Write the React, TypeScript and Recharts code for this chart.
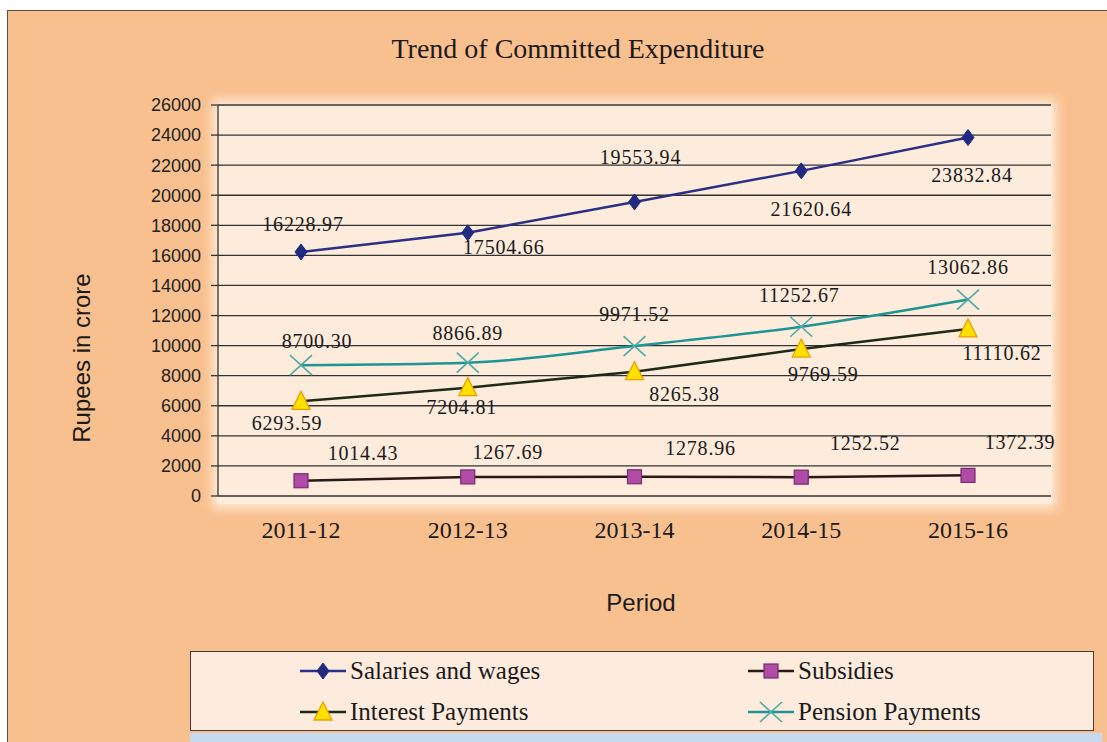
import React from 'react';
import { LineChart, Line, XAxis, YAxis, CartesianGrid, LabelList } from 'recharts';

const periods = ['2011-12', '2012-13', '2013-14', '2014-15', '2015-16'];
const salaries = [16228.97, 17504.66, 19553.94, 21620.64, 23832.84];
const subsidies = [1014.43, 1267.69, 1278.96, 1252.52, 1372.39];
const interest = [6293.59, 7204.81, 8265.38, 9769.59, 11110.62];
const pension = [8700.3, 8866.89, 9971.52, 11252.67, 13062.86];
const yTicks = [0, 2000, 4000, 6000, 8000, 10000, 12000, 14000, 16000, 18000, 20000, 22000, 24000, 26000];

const data = periods.map((period, i) => ({
  period,
  salaries: salaries[i],
  subsidies: subsidies[i],
  interest: interest[i],
  pension: pension[i],
}));

// where each data label sits relative to its point (dx, dy of text centre)
const labelOffsets: Record<string, [number, number][]> = {
  salaries: [[2, -28], [36, 14], [6, -45], [10, 38], [4, 37]],
  pension: [[16, -24], [0, -30], [0, -32], [-2, -32], [0, -33]],
  interest: [[-14, 22], [-6, 19], [50, 22], [22, 25], [34, 24]],
  subsidies: [[62, -28], [40, -25], [66, -29], [64, -34], [52, -33]],
};

const SERIF = '"Liberation Serif", "Times New Roman", serif';
const SANS = '"Liberation Sans", Arial, sans-serif';

const C = {
  salaries: '#2B2F86',
  subsidies: '#2A1A16',
  interest: '#1C2A16',
  pension: '#1E9494',
};

const Diamond = ({ cx, cy }: any) => (
  <polygon points={`${cx},${cy - 8} ${cx + 6},${cy} ${cx},${cy + 8} ${cx - 6},${cy}`} fill="#1F2A80" stroke="#1F2A80" />
);
const Square = ({ cx, cy }: any) => (
  <rect x={cx - 7} y={cy - 7} width={14} height={14} fill="#B04CA8" stroke="#7B2B6E" strokeWidth={1.2} />
);
const Triangle = ({ cx, cy }: any) => (
  <polygon points={`${cx},${cy - 10} ${cx + 9},${cy + 8} ${cx - 9},${cy + 8}`} fill="#FFE000" stroke="#E8A000" strokeWidth={1.3} />
);
const Cross = ({ cx, cy }: any) => (
  <g stroke="#4FA9A5" strokeWidth={1.6}>
    <line x1={cx - 11} y1={cy - 10} x2={cx + 11} y2={cy + 10} />
    <line x1={cx - 11} y1={cy + 10} x2={cx + 11} y2={cy - 10} />
  </g>
);

const makeLabel = (key: string) => (props: any) => {
  const { x, y, value, index } = props;
  const [dx, dy] = labelOffsets[key][index] || [0, -20];
  return (
    <text
      x={x + dx}
      y={y + dy}
      textAnchor="middle"
      dominantBaseline="central"
      fontFamily={SERIF}
      fontSize={20}
      letterSpacing={0.8}
      fill="#1a1a1a"
    >
      {Number(value).toFixed(2)}
    </text>
  );
};

const XTick = ({ x, y, payload }: any) => (
  <text x={x} y={y + 34} textAnchor="middle" fontFamily={SERIF} fontSize={24} fill="#1a1a1a">
    {payload.value}
  </text>
);

const LegendIcon = ({ color, Marker }: { color: string; Marker: any }) => (
  <svg width={46} height={24} style={{ display: 'block' }}>
    <line x1={0} y1={12} x2={46} y2={12} stroke={color} strokeWidth={2.5} />
    <Marker cx={23} cy={12} />
  </svg>
);

const legendItems = [
  { label: 'Salaries and wages', color: C.salaries, Marker: Diamond, left: 300, top: 659 },
  { label: 'Subsidies', color: C.subsidies, Marker: Square, left: 748, top: 659 },
  { label: 'Interest Payments', color: C.interest, Marker: Triangle, left: 300, top: 700 },
  { label: 'Pension Payments', color: C.pension, Marker: Cross, left: 748, top: 700 },
];

export default function App() {
  return (
    <div style={{ position: 'relative', width: 1107, height: 742, overflow: 'hidden', background: '#fff' }}>
      <style>{`body{margin:0}`}</style>
      <div
        style={{
          position: 'absolute',
          left: 7,
          top: 10,
          width: 1120,
          height: 760,
          background: '#F9C08F',
          border: '1.5px solid #5d4c44',
        }}
      />
      <div
        style={{
          position: 'absolute',
          left: 217,
          top: 104,
          width: 835,
          height: 400,
          background: '#FDEBDC',
          boxShadow: '0 0 10px 5px rgba(255,238,222,0.85)',
        }}
      />
      <div
        style={{
          position: 'absolute',
          left: 0,
          width: 1156,
          top: 33,
          textAlign: 'center',
          fontFamily: SERIF,
          fontSize: 28,
          color: '#1a1a1a',
        }}
      >
        Trend of Committed Expenditure
      </div>
      <div
        style={{
          position: 'absolute',
          left: 82,
          top: 358,
          transform: 'translate(-50%, -50%) rotate(-90deg)',
          fontFamily: SANS,
          fontSize: 24,
          whiteSpace: 'nowrap',
          color: '#1a1a1a',
        }}
      >
        Rupees in crore
      </div>
      <div
        style={{
          position: 'absolute',
          left: 641,
          top: 603,
          transform: 'translate(-50%, -50%)',
          fontFamily: SANS,
          fontSize: 24,
          color: '#1a1a1a',
        }}
      >
        Period
      </div>

      <div style={{ position: 'absolute', left: 0, top: 0 }}>
        <LineChart width={1107} height={742} data={data} margin={{ top: 105, right: 56, left: 0, bottom: 0 }}>
          <CartesianGrid vertical={false} stroke="#333" strokeWidth={1.3} />
          <XAxis
            dataKey="period"
            height={246}
            axisLine={false}
            tickLine={false}
            padding={{ left: 83, right: 83 }}
            tick={<XTick />}
            interval={0}
          />
          <YAxis
            width={218}
            domain={[0, 26000]}
            ticks={yTicks}
            interval={0}
            axisLine={{ stroke: '#333', strokeWidth: 1.3 }}
            tickLine={{ stroke: '#333', strokeWidth: 1.3 }}
            tickSize={7}
            tickMargin={10}
            tick={{ fontFamily: SANS, fontSize: 18, fill: '#222' }}
          />
          <Line
            dataKey="salaries"
            stroke={C.salaries}
            strokeWidth={2.5}
            dot={(p: any) => <Diamond key={p.index} {...p} />}
            isAnimationActive={false}
          >
            <LabelList dataKey="salaries" content={makeLabel('salaries')} />
          </Line>
          <Line
            dataKey="subsidies"
            stroke={C.subsidies}
            strokeWidth={2.5}
            dot={(p: any) => <Square key={p.index} {...p} />}
            isAnimationActive={false}
          >
            <LabelList dataKey="subsidies" content={makeLabel('subsidies')} />
          </Line>
          <Line
            dataKey="interest"
            stroke={C.interest}
            strokeWidth={2.5}
            dot={(p: any) => <Triangle key={p.index} {...p} />}
            isAnimationActive={false}
          >
            <LabelList dataKey="interest" content={makeLabel('interest')} />
          </Line>
          <Line
            type="monotone"
            dataKey="pension"
            stroke={C.pension}
            strokeWidth={2.5}
            dot={(p: any) => <Cross key={p.index} {...p} />}
            isAnimationActive={false}
          >
            <LabelList dataKey="pension" content={makeLabel('pension')} />
          </Line>
        </LineChart>
      </div>

      <div
        style={{
          position: 'absolute',
          left: 190,
          top: 651,
          width: 904,
          height: 80,
          background: '#FDEBDD',
          border: '1.5px solid #4a3a35',
          boxSizing: 'border-box',
        }}
      />
      <div style={{ position: 'absolute', left: 190, top: 733, width: 912, height: 12, background: '#C5D9EF' }} />
      {legendItems.map((it) => (
        <div
          key={it.label}
          style={{ position: 'absolute', left: it.left, top: it.top, display: 'flex', alignItems: 'center', gap: 4 }}
        >
          <LegendIcon color={it.color} Marker={it.Marker} />
          <span style={{ fontFamily: SERIF, fontSize: 25, color: '#1a1a1a', lineHeight: '24px' }}>{it.label}</span>
        </div>
      ))}
    </div>
  );
}
